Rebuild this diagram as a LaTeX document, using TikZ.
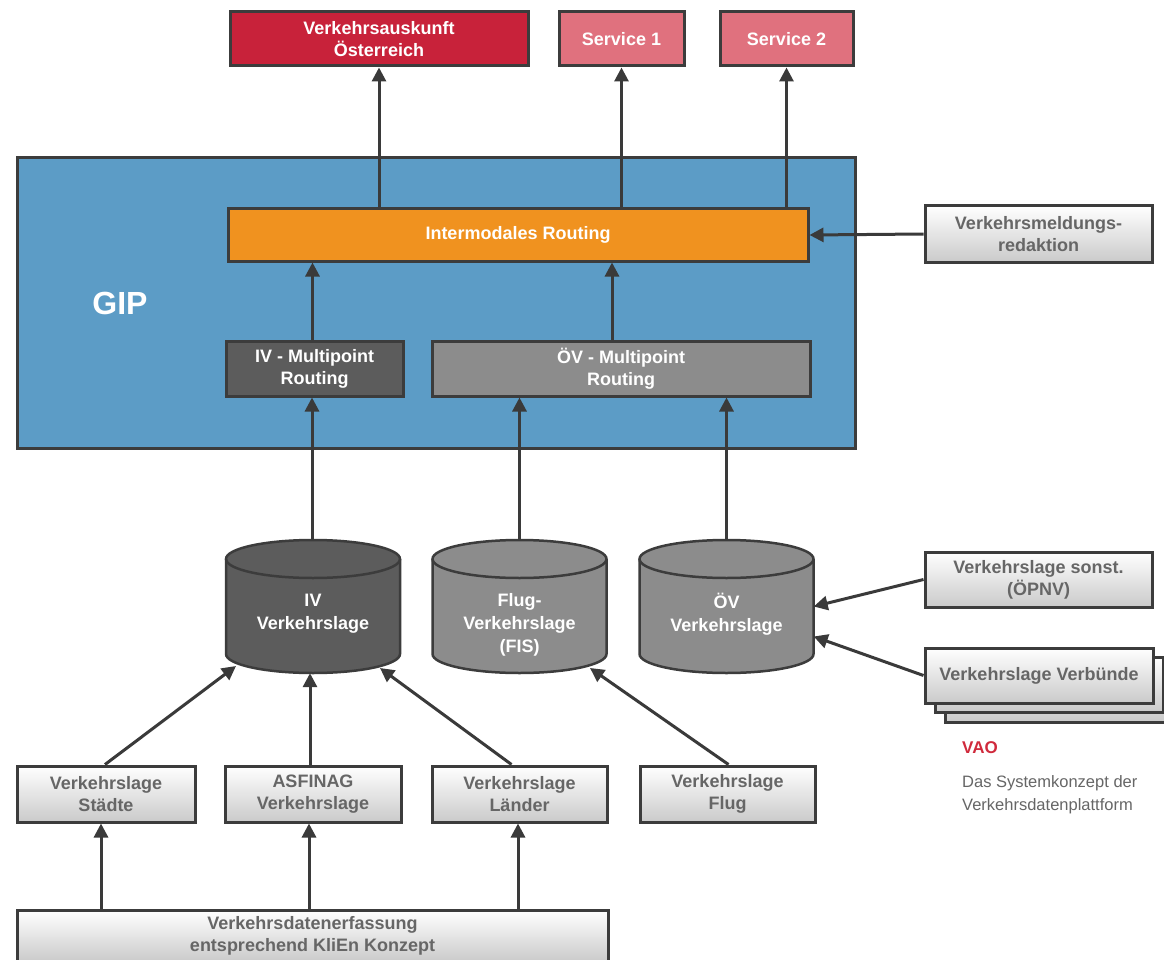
\documentclass[tikz,border=0pt]{standalone}
\usepackage{fontspec}
\setmainfont{Liberation Sans}
\usetikzlibrary{arrows.meta,calc}
\definecolor{bordc}{HTML}{3C3C3C}
\definecolor{arrc}{HTML}{3A3A3A}
\definecolor{redd}{HTML}{C8223A}
\definecolor{pinkc}{HTML}{E0717E}
\definecolor{gipblue}{HTML}{5C9CC6}
\definecolor{orangec}{HTML}{F0921F}
\definecolor{darkg}{HTML}{5C5C5C}
\definecolor{midg}{HTML}{8C8C8C}
\definecolor{lightbot}{HTML}{CACACA}
\definecolor{lighttext}{HTML}{666666}
\definecolor{vaored}{HTML}{D02A3C}
\tikzset{
  box/.style={draw=bordc, line width=3pt, align=center, inner sep=0pt,
    font=\bfseries\fontsize{18}{22}\selectfont},
  darkbox/.style={box, text=white},
  lightbox/.style={box, top color=white, bottom color=lightbot, text=lighttext},
  arr/.style={draw=arrc, line width=3pt, -{Triangle[length=14pt,width=14pt]}},
  cylbody/.style={draw=bordc, line width=2.5pt},
  cyltext/.style={align=center, text=white, font=\bfseries\fontsize{18}{23}\selectfont, inner sep=0pt},
}
\begin{document}
\begin{tikzpicture}[x=1pt,y=-1pt]
\useasboundingbox[fill=white] (0,0) rectangle (1164,960);

% top services
\node[darkbox, fill=redd, minimum width=298, minimum height=54] (va) at (379,39) {Verkehrsauskunft\\Österreich};
\node[darkbox, fill=pinkc, minimum width=125, minimum height=54] (s1) at (621.5,39) {Service 1};
\node[darkbox, fill=pinkc, minimum width=133, minimum height=54] (s2) at (786.5,39) {Service 2};

% GIP
\node[draw=bordc, line width=3pt, fill=gipblue, minimum width=838, minimum height=290] (gip) at (436,303) {};
\node[text=white, font=\bfseries\fontsize{32}{36}\selectfont, inner sep=0pt] (giplabel) at (120,303) {GIP};
\node[darkbox, fill=orangec, minimum width=580, minimum height=52] (ir) at (518,235) {Intermodales Routing};
\node[darkbox, fill=darkg, minimum width=177, minimum height=55] (ivm) at (314.5,368.5) {IV - Multipoint\\Routing};
\node[darkbox, fill=midg, minimum width=378, minimum height=55] (ovm) at (621,368.5) {ÖV - Multipoint\\Routing};

% right side
\node[lightbox, minimum width=227, minimum height=56] (vmr) at (1038.5,234) {Verkehrsmeldungs-\\redaktion};
\node[lightbox, minimum width=227, minimum height=55] (sonst) at (1038.5,579.5) {Verkehrslage sonst.\\(ÖPNV)};
\node[lightbox, minimum width=228, minimum height=55] (verb3) at (1059,694.5) {};
\node[lightbox, minimum width=228, minimum height=55] (verb2) at (1049,684.5) {};
\node[lightbox, minimum width=228, minimum height=55] (verb) at (1039,675.5) {Verkehrslage Verbünde};

% cylinders
\foreach \cx/\col in {313/darkg, 519.5/midg, 726.5/midg}{
  \fill[\col] (\cx-87,559) -- (\cx-87,654) arc[start angle=180,end angle=0,x radius=87,y radius=19] -- (\cx+87,559) arc[start angle=0,end angle=-180,x radius=87,y radius=19] -- cycle;
  \draw[cylbody] (\cx-87,559) -- (\cx-87,654) arc[start angle=180,end angle=0,x radius=87,y radius=19] -- (\cx+87,559);
  \draw[cylbody] (\cx,559) ellipse[x radius=87, y radius=19];
}
\node[minimum width=174, minimum height=133, inner sep=0pt] (civ) at (313,606.5) {};
\node[minimum width=175, minimum height=133, inner sep=0pt] (cfl) at (519.5,606.5) {};
\node[minimum width=174, minimum height=133, inner sep=0pt] (cov) at (726.5,606.5) {};
\node[cyltext] (civt) at (313,614) {IV\\Verkehrslage};
\node[cyltext] (cflt) at (519.5,625) {Flug-\\Verkehrslage\\(FIS)};
\node[cyltext] (covt) at (726.5,614) {ÖV\\Verkehrslage};

% bottom boxes
\node[lightbox, minimum width=178, minimum height=56] (staedte) at (106,794) {Verkehrslage\\Städte};
\node[lightbox, minimum width=176, minimum height=56] (asfinag) at (313,794) {ASFINAG\\Verkehrslage};
\node[lightbox, minimum width=175, minimum height=56] (laender) at (519.5,794) {Verkehrslage\\Länder};
\node[lightbox, minimum width=175, minimum height=56] (flug) at (727.5,794) {Verkehrslage\\Flug};
\node[lightbox, minimum width=591, minimum height=52] (erf) at (312.5,936) {Verkehrsdatenerfassung\\entsprechend KliEn Konzept};

% legend
\node[anchor=west, text=vaored, font=\bfseries\fontsize{17}{20}\selectfont, inner sep=0pt] (vao) at (962,748) {VAO};
\node[anchor=north west, align=left, text=lighttext, font=\fontsize{16.5}{23}\selectfont, inner sep=0pt] (vaodesc) at (962,775) {Das Systemkonzept der\\Verkehrsdatenplattform};

% connectors
\draw[arr] (ir.north -| va.south) -- (va.south);
\draw[arr] (ir.north -| s1.south) -- (s1.south);
\draw[arr] (ir.north -| s2.south) -- (s2.south);
\draw[arr] (vmr.west) -- (ir.east);
\draw[arr] ([xshift=-2pt]ivm.north) -- ([xshift=-2pt]ivm.north |- ir.south);
\draw[arr] ([xshift=-9pt]ovm.north) -- ([xshift=-9pt]ovm.north |- ir.south);
\draw[arr] ([xshift=-1pt]civ.north) -- ([xshift=-1pt]civ.north |- ivm.south);
\draw[arr] (cfl.north) -- (cfl.north |- ovm.south);
\draw[arr] (cov.north) -- (cov.north |- ovm.south);
\draw[arr] (sonst.west) -- (cov.east);
\draw[arr] (verb.west) -- ([yshift=-30pt]cov.east);
\coordinate (civL) at (236,666);
\coordinate (civR) at (380,668);
\coordinate (cflR) at (590,668);
\draw[arr] ([xshift=-1pt]staedte.north) -- (civL);
\draw[arr] ([xshift=-3pt]asfinag.north) -- ([xshift=-3pt]civ.south);
\draw[arr] ([xshift=-8pt]laender.north) -- (civR);
\draw[arr] ([xshift=1pt]flug.north) -- (cflR);
\draw[arr] (erf.north -| 101,0) -- (staedte.south -| 101,0);
\draw[arr] (erf.north -| 309,0) -- (asfinag.south -| 309,0);
\draw[arr] (erf.north -| 518,0) -- (laender.south -| 518,0);
\end{tikzpicture}
\end{document}
